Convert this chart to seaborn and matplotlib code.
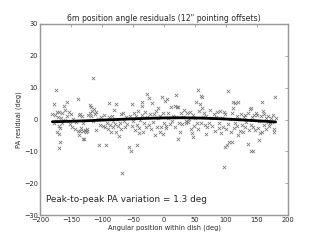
import matplotlib
matplotlib.use("Agg")
import matplotlib.pyplot as plt
import seaborn as sns
import numpy as np

# --- data ---
pts = [
    # -180 .. -130
    (-180,1.7),(-178,-1.0),(-177,4.8),(-176,1.4),(-175,9.3),(-174,-0.5),(-173,2.5),(-172,-3.8),(-171,0.8),(-170,-2.0),
    (-170,-4.6),(-169,2.5),(-169,-8.9),(-168,-2.8),(-168,-7.0),(-166,0.5),(-165,2.0),(-164,-1.2),(-162,4.2),(-160,3.0),
    (-159,-0.3),(-157,5.4),(-156,1.0),(-154,2.5),(-152,-1.5),(-150,1.7),(-149,-2.5),(-147,0.3),(-144,-3.1),(-142,-0.8),
    (-139,6.3),(-139,-3.5),(-137,1.4),(-137,-4.9),(-136,-3.5),(-135,1.7),(-134,-2.8),(-133,1.1),(-131,-3.5),(-131,-6.2),(-130,-1.0),
    # -130 .. -65
    (-129,-6.0),(-127,-3.2),(-126,-3.8),(-125,-3.5),(-124,-2.9),(-122,1.5),(-120,4.6),(-119,2.2),(-118,3.8),(-117,1.0),
    (-116,2.8),(-115,-0.5),(-114.5,13.0),(-113,3.2),(-112,1.8),(-110,2.5),(-109,-3.3),(-107,0.2),(-105,-8.0),(-103,-1.8),
    (-101,0.8),(-98,-2.0),(-96,1.5),(-95,-2.5),(-93,-8.0),(-92,-1.0),(-91,-3.0),(-89,5.3),(-88,0.8),(-87,-1.8),
    (-86,-3.8),(-84,1.2),(-83,-0.5),(-82,-2.2),(-80,3.0),(-79,-1.3),(-78,4.8),(-77,-4.0),(-76,0.2),(-74,-2.0),
    (-73,-5.2),(-71,-1.0),(-70,1.6),(-69,-3.0),(-67,-16.7),(-66,2.1),(-65,-0.4),
    # -65 .. 0
    (-63,-2.5),(-61,0.9),(-59,-1.5),(-56,-8.5),(-55,1.2),(-53,-10.0),(-52,4.8),(-51,-2.0),(-50,-0.6),(-48,2.0),
    (-47,-3.3),(-45,1.0),(-44,-1.8),(-43,-8.0),(-42,2.7),(-41,-4.3),(-40,-2.6),(-38,0.0),(-36,1.5),(-35,5.4),
    (-35,4.2),(-34,-3.8),(-32,-1.2),(-30,2.3),(-29,-2.5),(-28,8.0),(-27,0.7),(-25,6.7),(-24,-1.8),(-22,1.6),
    (-21,-3.0),(-20,5.3),(-18,-0.9),(-16,1.8),(-14,-5.0),(-13,2.8),(-11,-2.2),(-10,0.5),(-9,3.5),(-7,-3.8),
    (-6,1.2),(-5,-2.5),(-3,7.0),(-2,2.0),(-1,-4.5),(0,-1.0),
    # 0 .. 70
    (2,5.8),(3,-2.0),(4,-2.8),(5,6.5),(6,0.4),(7,2.2),(9,-1.5),(11,3.9),(13,-0.5),(15,1.2),
    (17,4.2),(18,-2.3),(19,7.7),(20,0.8),(21,3.8),(22,4.0),(23,-6.2),(24,-1.2),(26,-3.8),(27,2.0),
    (29.5,-1.5),(31,0.8),(33,3.0),(35,-0.5),(36,-1.2),(37,1.9),(38,-0.9),(40,0.3),(42,2.5),(44,-3.0),
    (45,-4.2),(46,-5.5),(47,1.4),(48,-2.0),(50,0.6),(52,5.5),(53,-1.0),(55,9.3),(55,-3.0),(56,2.6),
    (58,5.0),(59,7.5),(60,-1.2),(61,3.5),(62,7.0),(63,0.7),(65,2.2),(66,-1.8),(67,-4.5),(68,1.2),(70,-2.5),
    # 70 .. 140
    (72,-1.0),(74,3.0),(76,0.4),(78,-2.0),(80,1.8),(82,-3.5),(84,0.8),(86,2.3),(88,-2.8),(89,-1.2),
    (90,2.8),(92,-4.2),(93,0.5),(95,-2.2),(96,-14.8),(97,2.3),(98,-8.5),(99,1.8),(100,-3.0),(101,-8.0),
    (103,-1.5),(104,9.0),(105,-7.0),(106,0.3),(108,-3.8),(109,1.9),(110,-7.0),(111,5.5),(112,3.5),(113,-2.6),
    (114,5.3),(115,-1.0),(117,1.2),(118,-2.0),(119,-5.0),(120,5.5),(121,0.2),(122,-3.5),(124,1.6),(126,-1.8),
    (127,-4.0),(129,0.9),(130,-2.5),(131,1.5),(133,-0.8),(135,2.1),(136,-7.7),(137,-3.3),(139,3.2),(140,-1.8),
    # 140 .. 180
    (141,3.5),(141,-9.9),(142,0.9),(143,-10.0),(144,-2.2),(145,1.5),(147,-3.2),(148,2.0),(150,1.3),(151,-2.6),
    (153,-0.5),(154,-6.4),(155,-4.3),(156,1.0),(157.5,5.4),(158,-3.8),(160,2.8),(161,1.8),(162,-1.7),(164,0.4),
    (165,-2.9),(167,-0.7),(168,1.2),(170,-2.0),(171,-1.2),(172,0.5),(174,-0.9),(176,1.5),(177,-2.9),(178,-4.0),
    (179,7.0),(180,0.6),
]
angle_deg = [p[0] for p in pts]
pa_resid = [p[1] for p in pts]

fit_x = [-180, -150, -120, -90, -60, -30, 0, 30, 60, 90, 120, 150, 180]
fit_y = [-0.7, -0.55, -0.35, -0.1, 0.15, 0.35, 0.5, 0.55, 0.45, 0.25, -0.05, -0.4, -0.75]

x_ticks = [-200, -150, -100, -50, 0, 50, 100, 150, 200]
y_ticks = [-30, -20, -10, 0, 10, 20, 30]

title = "6m position angle residuals (12\" pointing offsets)"
xlabel = "Angular position within dish (deg)"
ylabel = "PA residual (deg)"
note = "Peak-to-peak PA variation = 1.3 deg"

sns.set_style("white")
plt.rcParams["font.family"] = ["DejaVu Sans"]

fig = plt.figure(figsize=(8, 6), dpi=40)
ax = fig.add_axes([0.125, 0.104, 0.775, 0.796])

sns.scatterplot(x=angle_deg, y=pa_resid, marker="x", color="#7a7a7a",
                s=36, linewidth=1.4, ax=ax, legend=False)
sns.lineplot(x=fit_x, y=fit_y, color="black", linewidth=5, ax=ax, legend=False)

ax.set_xlim(-200, 200)
ax.set_ylim(-30, 30)
ax.set_xticks(x_ticks)
ax.set_yticks(y_ticks)
ax.set_xticklabels([f"{t}".replace("-", "\u2212") for t in x_ticks])
ax.set_yticklabels([f"{t}".replace("-", "\u2212") for t in y_ticks])
ax.tick_params(direction="in", length=6, width=1.5, color="#999999",
               labelsize=12, top=True, right=True, pad=4)
for sp in ax.spines.values():
    sp.set_color("#999999")
    sp.set_linewidth(2.6)

ax.set_title(title, fontsize=14, pad=5)
ax.set_xlabel(xlabel, fontsize=12, labelpad=2)
ax.set_ylabel(ylabel, fontsize=12, labelpad=4)
ax.text(0.025, 0.06, note, transform=ax.transAxes, fontsize=16, ha="left", va="bottom")

fig.savefig("out.png", dpi=40)
